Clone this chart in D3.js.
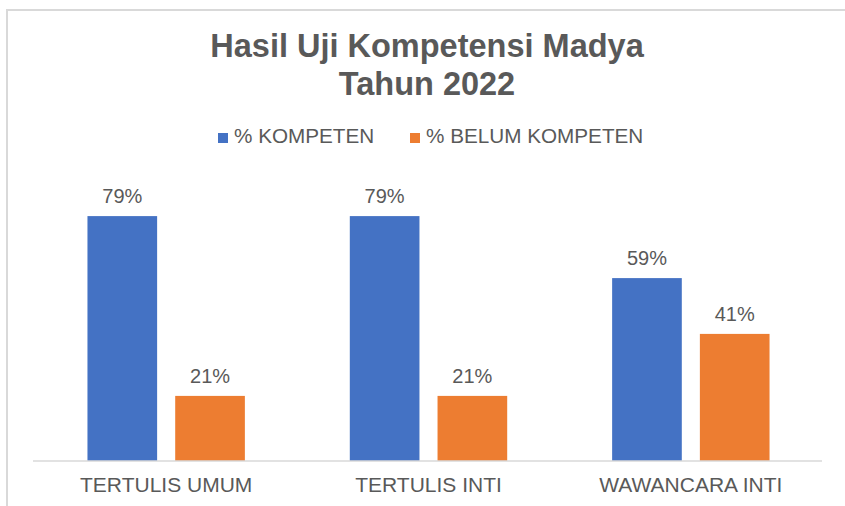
<!DOCTYPE html>
<html>
<head>
<meta charset="utf-8">
<script src="https://cdn.jsdelivr.net/npm/d3@7"></script>
<style>
  body { margin: 0; background: #fff; }
  text { font-family: "Liberation Sans", Arial, sans-serif; fill: #595959; }
</style>
</head>
<body>
<div id="chart"></div>
<script>
// data
var categories = ['TERTULIS UMUM', 'TERTULIS INTI', 'WAWANCARA INTI'];
var seriesNames = ['% KOMPETEN', '% BELUM KOMPETEN'];
var kompeten = [79, 79, 59];
var belumKompeten = [21, 21, 41];
var colors = ['#4472C4', '#ED7D31'];

var w = 845;
var h = 506;

var svg = d3.select('#chart')
    .append('svg')
    .attr('width', w)
    .attr('height', h);

// chart border (only top and left visible in frame)
svg.append('rect')
    .attr('x', 7)
    .attr('y', 10)
    .attr('width', 900)
    .attr('height', 600)
    .attr('fill', 'none')
    .attr('stroke', '#d9d9d9')
    .attr('stroke-width', 2);

// title
var title = svg.append('text')
    .attr('text-anchor', 'middle')
    .style('font-size', '32.5px')
    .style('font-weight', 'bold');
title.append('tspan').attr('x', 427).attr('y', 57).text('Hasil Uji Kompetensi Madya');
title.append('tspan').attr('x', 427).attr('y', 95).text('Tahun 2022');

// scales
var x0 = d3.scaleBand()
    .domain(categories)
    .range([35, 822])
    .paddingInner(0.4)
    .paddingOuter(0.2);

var x1 = d3.scaleBand()
    .domain(seriesNames)
    .range([0, x0.bandwidth()])
    .paddingInner(0.206)
    .paddingOuter(0);

var y = d3.scaleLinear()
    .domain([0, 100])
    .range([461, 151]);

var rows = categories.map(function(c, i) {
    return { cat: c, values: [kompeten[i], belumKompeten[i]] };
});

var groups = svg.selectAll('g.group')
    .data(rows)
    .enter()
    .append('g')
    .attr('class', 'group')
    .attr('transform', function(d) { return 'translate(' + x0(d.cat) + ',0)'; });

groups.selectAll('rect')
    .data(function(d) { return d.values.map(function(v, j) { return { s: seriesNames[j], v: v, j: j }; }); })
    .enter()
    .append('rect')
    .attr('x', function(d) { return x1(d.s); })
    .attr('y', function(d) { return y(d.v); })
    .attr('width', x1.bandwidth())
    .attr('height', function(d) { return y(0) - y(d.v); })
    .attr('fill', function(d) { return colors[d.j]; });

groups.selectAll('text.lbl')
    .data(function(d) { return d.values.map(function(v, j) { return { s: seriesNames[j], v: v }; }); })
    .enter()
    .append('text')
    .attr('class', 'lbl')
    .attr('x', function(d) { return x1(d.s) + x1.bandwidth() / 2; })
    .attr('y', function(d) { return y(d.v) - 13; })
    .attr('text-anchor', 'middle')
    .style('font-size', '20px')
    .text(function(d) { return d.v + '%'; });

// x axis
var xAxis = svg.append('g')
    .attr('transform', 'translate(0,' + y(0) + ')')
    .call(d3.axisBottom(x0).tickSize(0).tickSizeOuter(0));
xAxis.select('.domain')
    .attr('stroke', '#d9d9d9')
    .attr('stroke-width', 1.5)
    .attr('d', 'M33,0H822');
xAxis.selectAll('text')
    .attr('dy', null)
    .attr('y', 31)
    .attr('fill', '#595959')
    .style('font-size', '21px')
    .style('font-family', '"Liberation Sans", Arial, sans-serif');

// legend
var legend = svg.append('g');
var lx = [218, 410];
seriesNames.forEach(function(name, i) {
    legend.append('rect')
        .attr('x', lx[i])
        .attr('y', 133)
        .attr('width', 10)
        .attr('height', 10)
        .attr('fill', colors[i]);
    legend.append('text')
        .attr('x', lx[i] + 16)
        .attr('y', 143)
        .style('font-size', '20.7px')
        .text(name);
});
</script>
</body>
</html>
